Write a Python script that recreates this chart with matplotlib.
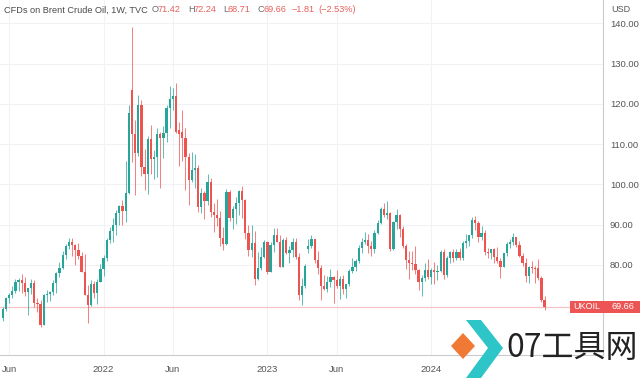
import matplotlib
matplotlib.use("Agg")
import matplotlib.pyplot as plt
import matplotlib.transforms as mtransforms
from matplotlib.patches import Rectangle, Polygon

# weekly candles, first bar = week of 24 May 2021, last = week of 9 Sep 2024
opens = [66.8, 69.0, 71.8, 72.6, 73.6, 75.9, 76.4, 75.6, 73.4, 74.3,
         75.5, 70.6, 70.2, 65.1, 72.6, 72.9, 73.4, 75.5, 78.0, 79.3,
         82.5, 84.7, 85.8, 84.9, 83.7, 82.2, 78.2, 72.6, 70.1, 75.2,
         73.0, 75.9,
         79.0, 81.8, 86.1, 88.5, 90.0, 93.0, 94.6, 93.3, 97.9, 123.5,
         112.4, 107.9, 119.8, 104.3, 102.5, 111.2, 106.3, 106.8, 112.6, 111.4,
         112.7, 119.0, 121.3, 121.9, 113.5, 113.0, 111.5, 106.8, 101.1, 103.6,
         104.0, 94.5, 97.9, 95.8, 100.6, 93.2, 92.4, 91.7, 86.7, 85.3,
         98.2, 91.7, 94.0, 95.5, 98.4, 96.1, 87.9, 83.7, 85.5, 76.6,
         79.3, 82.1,
         85.8, 78.3, 85.0, 87.4, 85.8, 79.6, 86.2, 83.0, 83.7, 85.8,
         82.1, 72.6, 74.9, 84.0, 84.7, 86.4, 81.2, 79.3, 74.9, 74.1,
         75.9, 77.0, 76.2, 74.8, 76.6, 74.0, 75.4, 78.4, 79.6, 80.9,
         84.1, 85.8, 86.1, 84.6, 84.0, 87.9, 90.4, 94.0, 92.4, 92.9,
         84.0, 90.7, 92.3, 89.0, 84.7, 81.3, 80.5, 80.2, 78.8, 75.9,
         76.7, 78.8,
         77.1, 78.7, 78.3, 78.6, 83.3, 77.5, 81.7, 83.3, 81.7, 83.3,
         81.7, 85.4, 86.0, 87.4, 91.2, 90.5, 87.0, 88.0, 83.2, 82.9,
         84.0, 82.1, 80.9, 79.6, 82.9, 85.1, 85.8, 86.9, 85.0, 82.2,
         80.5, 77.2, 79.5, 79.3, 79.2, 76.8, 71.42]
highs = [69.5, 72.0, 73.0, 74.9, 76.6, 76.8, 77.8, 77.0, 74.4, 76.5,
         76.3, 71.9, 71.2, 72.9, 73.7, 73.5, 76.2, 78.3, 80.8, 83.5,
         85.1, 86.7, 86.6, 85.3, 85.5, 83.3, 82.7, 75.0, 76.2, 76.1,
         76.6, 80.2,
         82.6, 86.7, 89.5, 91.7, 93.7, 95.0, 96.2, 105.8, 119.8, 139.1,
         116.0, 122.2, 121.0, 108.8, 112.1, 114.8, 108.6, 114.0, 112.9, 114.4,
         119.6, 124.4, 124.0, 125.2, 115.6, 118.5, 114.0, 107.7, 108.0, 107.5,
         104.8, 99.0, 98.4, 102.5, 101.5, 95.5, 96.3, 93.4, 89.4, 98.8,
         98.6, 94.6, 96.8, 98.6, 99.6, 96.3, 90.0, 90.0, 88.5, 83.3,
         84.5, 86.3,
         86.0, 85.6, 89.1, 89.1, 87.4, 86.8, 86.9, 84.6, 86.8, 86.8,
         83.1, 76.8, 80.2, 86.4, 87.5, 86.5, 83.4, 79.9, 77.5, 77.2,
         78.9, 77.2, 78.7, 77.2, 77.4, 75.4, 78.9, 81.8, 81.5, 84.9,
         86.6, 88.1, 87.6, 85.9, 88.8, 91.2, 94.3, 95.5, 96.0, 93.2,
         91.0, 93.8, 92.6, 89.7, 85.2, 83.4, 83.5, 84.6, 79.0, 77.4,
         80.6, 81.6,
         79.3, 80.8, 79.9, 83.8, 84.0, 82.2, 83.5, 84.0, 84.0, 84.1,
         86.0, 87.7, 87.5, 91.9, 92.2, 91.0, 89.6, 88.6, 84.3, 84.0,
         84.1, 84.5, 81.8, 83.0, 85.8, 86.4, 87.9, 87.0, 85.9, 83.0,
         81.8, 79.8, 81.0, 79.8, 81.4, 77.2, 72.24]
lows = [66.2, 68.6, 70.6, 71.7, 73.0, 73.6, 73.0, 72.3, 67.5, 72.8,
        69.6, 68.4, 64.6, 65.0, 70.7, 71.1, 72.5, 73.1, 77.0, 79.0,
        81.6, 84.0, 82.3, 80.1, 81.4, 78.3, 72.5, 65.7, 69.8, 71.8,
        70.2, 75.7,
        77.3, 80.9, 85.4, 85.7, 87.5, 89.9, 90.0, 90.7, 97.6, 105.6,
        97.4, 107.0, 102.2, 98.5, 97.6, 102.6, 101.4, 101.8, 99.0, 106.6,
        110.6, 113.9, 118.5, 112.8, 104.6, 105.9, 98.5, 95.0, 100.5, 99.0,
        93.2, 92.9, 91.5, 95.0, 91.9, 88.2, 89.6, 84.8, 83.7, 85.0,
        91.0, 89.0, 90.1, 92.4, 91.7, 86.4, 82.3, 82.0, 75.1, 76.3,
        78.7, 81.8,
        77.8, 78.2, 83.3, 85.7, 79.6, 79.4, 82.7, 80.6, 82.1, 81.5,
        71.4, 70.1, 74.2, 83.0, 84.1, 80.6, 77.7, 71.4, 73.9, 73.2,
        74.6, 70.6, 74.3, 71.6, 72.8, 71.8, 74.7, 78.0, 78.6, 80.6,
        82.9, 85.3, 82.9, 82.3, 82.9, 87.6, 90.2, 91.8, 91.4, 83.5,
        83.6, 89.0, 87.0, 84.2, 79.0, 76.6, 78.7, 77.8, 73.9, 72.3,
        76.0, 76.6,
        75.3, 75.4, 76.4, 78.2, 76.6, 76.9, 80.6, 80.7, 81.2, 81.2,
        81.2, 84.1, 84.6, 86.8, 88.7, 85.7, 86.3, 82.4, 81.7, 81.6,
        80.6, 80.4, 76.8, 79.5, 82.3, 84.1, 85.0, 84.5, 82.0, 79.8,
        75.9, 75.5, 77.9, 75.5, 76.2, 70.9, 68.71]
closes = [69.0, 71.8, 72.6, 73.6, 75.9, 76.4, 75.6, 73.4, 74.3, 75.5,
          70.6, 70.2, 65.1, 72.6, 72.9, 73.4, 75.5, 78.0, 79.3, 82.5,
          84.7, 85.8, 84.9, 83.7, 82.2, 78.2, 72.6, 70.1, 75.2, 73.0,
          75.9, 79.0,
          81.8, 86.1, 88.5, 90.0, 93.0, 94.6, 93.3, 97.9, 117.7, 112.4,
          107.9, 119.8, 104.3, 102.5, 111.2, 106.3, 106.8, 112.6, 111.4, 112.7,
          119.0, 121.3, 121.9, 113.0, 112.4, 111.5, 106.8, 101.1, 103.6, 104.0,
          94.5, 97.9, 95.8, 100.6, 93.2, 92.4, 91.7, 86.7, 85.3, 98.2,
          91.7, 94.0, 95.5, 98.4, 96.1, 87.9, 83.7, 85.5, 76.6, 79.3,
          82.1, 85.8,
          78.3, 85.0, 87.4, 85.8, 79.6, 86.2, 83.0, 83.7, 85.8, 82.1,
          72.6, 74.9, 79.7, 84.7, 86.4, 81.2, 79.3, 74.9, 74.1, 75.9,
          77.0, 76.2, 74.8, 76.6, 74.0, 75.4, 78.4, 79.6, 80.9, 84.1,
          85.8, 86.1, 84.6, 84.0, 87.9, 90.4, 94.0, 92.4, 92.9, 84.0,
          90.7, 92.3, 89.0, 84.7, 81.3, 80.5, 80.2, 78.8, 75.9, 76.7,
          78.8, 77.1,
          78.7, 78.3, 78.6, 83.3, 77.5, 81.7, 83.3, 81.7, 83.3, 81.7,
          85.4, 86.0, 87.4, 91.2, 90.5, 87.0, 88.0, 83.2, 82.9, 84.0,
          82.1, 80.9, 79.6, 82.9, 85.1, 85.8, 86.9, 85.0, 82.2, 80.5,
          77.2, 79.5, 79.3, 79.0, 76.8, 71.3, 69.66]

tick_pos = [2, 32, 54, 84, 106, 136]
tick_labels = ['Jun', '2022', 'Jun', '2023', 'Jun', '2024']
price_ticks = [80, 90, 100, 110, 120, 130, 140]
last_price = 69.66

up_col = '#26a69a'
down_col = '#ef5350'

W, H = 640, 379
fig = plt.figure(figsize=(W / 100, H / 100), dpi=100)
fig.patch.set_facecolor('white')
plot_right, plot_bottom = 603, 355
ax = fig.add_axes([0, (H - plot_bottom) / H, plot_right / W, plot_bottom / H])

px_per_bar, x0_px = 3.15, 2.8
px_per_usd, y80_px = 4.03, 265
ax.set_xlim((0 - x0_px) / px_per_bar, (plot_right - x0_px) / px_per_bar)
ax.set_ylim(80 - (plot_bottom - y80_px) / px_per_usd, 80 + y80_px / px_per_usd)

for i in range(len(closes)):
    o, h, l, c = opens[i], highs[i], lows[i], closes[i]
    col = up_col if c >= o else down_col
    ax.vlines(i, l, h, color=col, linewidth=0.7, alpha=0.75, zorder=2)
    bot = min(o, c)
    ht = max(abs(c - o), 0.25)
    ax.bar(i, ht, bottom=bot, width=0.7, color=col, linewidth=0, zorder=3)

# grid
for p in price_ticks:
    ax.axhline(p, color='#f0f2f6', linewidth=0.8, zorder=0)
for t in tick_pos:
    ax.axvline(t, color='#f0f2f6', linewidth=0.8, zorder=0)

# current price line
ax.axhline(last_price, color='#f6c4c4', linewidth=0.9, zorder=1)

for s in ['top', 'left']:
    ax.spines[s].set_visible(False)
ax.spines['right'].set_color('#c8cad0')
ax.spines['right'].set_linewidth(0.8)
ax.spines['bottom'].set_color('#c8cad0')
ax.spines['bottom'].set_linewidth(0.8)

ax.yaxis.tick_right()
ax.set_yticks(price_ticks)
ax.set_yticklabels(['%.2f' % p for p in price_ticks])
ax.tick_params(axis='y', length=0, pad=5, labelsize=6.8, labelcolor='#555555')
ax.set_xticks(tick_pos)
ax.set_xticklabels(tick_labels)
ax.tick_params(axis='x', length=0, pad=7, labelsize=6.8, labelcolor='#555555')
for lab in ax.get_xticklabels() + ax.get_yticklabels():
    lab.set_family('Liberation Sans')

# header
def px(x, y):
    return x / W, 1 - y / H

hdr = dict(fontsize=6.6, family='Liberation Sans', va='center')
fig.text(*px(4, 10), 'CFDs on Brent Crude Oil, 1W, TVC', color='#4a4a4a', **hdr)
parts = [(152, 'O', '#6a6a6a'), (158, '%.2f' % opens[-1], '#e8605d'),
         (188, 'H', '#6a6a6a'), (194, '%.2f' % highs[-1], '#e8605d'),
         (223, 'L', '#6a6a6a'), (228, '%.2f' % lows[-1], '#e8605d'),
         (257, 'C', '#6a6a6a'), (263, '%.2f' % closes[-1], '#e8605d'),
         (292, '\u22121.81', '#e8605d'), (318, '(\u22122.53%)', '#e8605d')]
for x, s, col in parts:
    fig.text(*px(x, 10), s, color=col, **hdr)
fig.text(*px(611, 9), 'USD', color='#555555', fontsize=6.5, family='Liberation Sans', va='center')

# last price label
tr = mtransforms.blended_transform_factory(fig.transFigure, ax.transData)
ax.add_patch(Rectangle((570 / W, last_price - 1.5), 1 - 570 / W, 3.0, transform=tr,
                       facecolor='#ec5553', edgecolor='none', clip_on=False, zorder=5))
ax.text(573 / W, last_price, 'UKOIL', transform=tr, color='white', fontsize=6.5,
        family='Liberation Sans', va='center', clip_on=False, zorder=6)
ax.text(612 / W, last_price, '%.2f' % last_price, transform=tr, color='white', fontsize=6.5,
        family='Liberation Sans', va='center', clip_on=False, zorder=6)

# watermark logo
def poly(pts, col):
    fig.patches.append(Polygon([px(x, y) for x, y in pts], closed=True,
                               transform=fig.transFigure, facecolor=col,
                               edgecolor='none', zorder=10))

poly([(463, 333), (475, 346), (463, 359), (451, 346)], '#f07a35')
poly([(466, 320), (481, 320), (503, 348), (481, 378), (466, 378), (488, 348)], '#2ec5c9')
fig.text(*px(506, 348), '07工具网', color='#222222', fontsize=23, fontweight='light',
         family=['Noto Sans CJK SC', 'DejaVu Sans'], va='center', zorder=11)

fig.savefig('out.png', dpi=100)
